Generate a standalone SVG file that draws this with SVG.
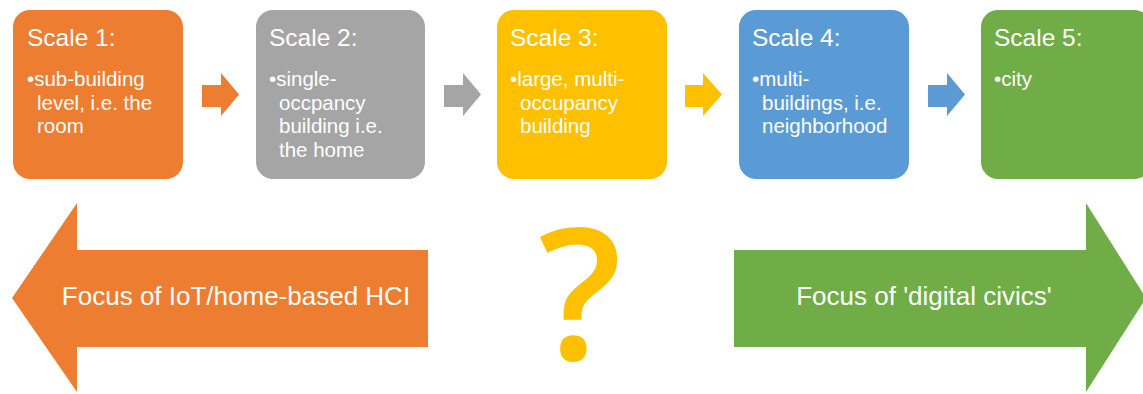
<svg xmlns="http://www.w3.org/2000/svg" width="1143" height="394" viewBox="0 0 1143 394">
  <style>
    .box { rx: 17px; ry: 17px; }
    .title { font-family: "Liberation Sans", Arial, sans-serif; font-size: 24.5px; fill: #fff; }
    .body { font-family: "Liberation Sans", Arial, sans-serif; font-size: 20.5px; fill: #fff; }
    .big { font-family: "Liberation Sans", Arial, sans-serif; font-size: 26px; fill: #fff; text-anchor: middle; }
    .o { fill: #ED7D31; }
    .g { fill: #A5A5A5; }
    .y { fill: #FFC000; }
    .b { fill: #5B9BD5; }
    .gr { fill: #70AD47; }
  </style>
  <rect width="1143" height="394" fill="#fff"/>

  <!-- scale boxes -->
  <g id="scale1">
    <rect class="box o" x="13" y="10" width="170" height="169"/>
    <text class="title" x="27" y="46">Scale 1:</text>
    <text class="body"><tspan x="27" y="86">•sub-building</tspan><tspan x="37" y="110">level, i.e. the</tspan><tspan x="37" y="133">room</tspan></text>
  </g>
  <g id="scale2">
    <rect class="box g" x="256" y="10" width="169" height="169"/>
    <text class="title" x="269" y="46">Scale 2:</text>
    <text class="body"><tspan x="269" y="86">•single-</tspan><tspan x="279" y="110">occpancy</tspan><tspan x="279" y="133">building i.e.</tspan><tspan x="279" y="157">the home</tspan></text>
  </g>
  <g id="scale3">
    <rect class="box y" x="497" y="10" width="170" height="169"/>
    <text class="title" x="510" y="46">Scale 3:</text>
    <text class="body"><tspan x="510" y="86">•large, multi-</tspan><tspan x="520" y="110">occupancy</tspan><tspan x="520" y="133">building</tspan></text>
  </g>
  <g id="scale4">
    <rect class="box b" x="739" y="10" width="170" height="169"/>
    <text class="title" x="752" y="46">Scale 4:</text>
    <text class="body"><tspan x="752" y="86">•multi-</tspan><tspan x="762" y="110">buildings, i.e.</tspan><tspan x="762" y="133">neighborhood</tspan></text>
  </g>
  <g id="scale5">
    <rect class="box gr" x="981" y="10" width="170" height="169"/>
    <text class="title" x="994" y="46">Scale 5:</text>
    <text class="body"><tspan x="994" y="86">•city</tspan></text>
  </g>

  <!-- connectors between scales -->
  <g id="connectors">
    <polygon class="o" points="202,85 221,85 221,73 239,94.5 221,116 221,107 202,107"/>
    <polygon class="g" points="444,85 463,85 463,73 481,94.5 463,116 463,107 444,107"/>
    <polygon class="y" points="685,85 703,85 703,73 722,94.5 703,116 703,107 685,107"/>
    <polygon class="b" points="928,85 947,85 947,73 965,94.5 947,116 947,107 928,107"/>
  </g>

  <!-- focus arrows -->
  <g id="focus-home">
    <polygon class="o" points="12,298 77,203 77,250 428,250 428,347 77,347 77,392"/>
    <text class="big" x="236" y="305">Focus of IoT/home-based HCI</text>
  </g>
  <g id="focus-civics">
    <polygon class="gr" points="734,250 1086,250 1086,203 1146,298 1086,392 1086,347 734,347"/>
    <text class="big" x="924" y="305">Focus of 'digital civics'</text>
  </g>

  <g id="unknown">
    <text x="580" y="360" font-family="'Open Sans', 'Liberation Sans', sans-serif" font-weight="600" font-size="184" fill="#FFC000" text-anchor="middle">?</text>
  </g>
</svg>
